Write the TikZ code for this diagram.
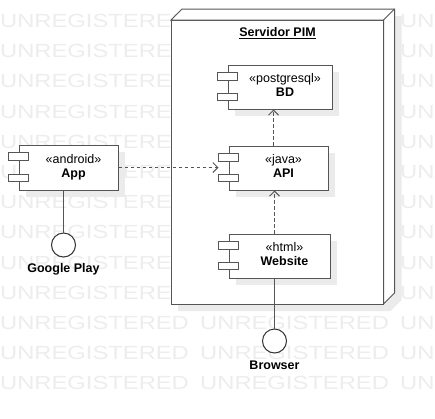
\documentclass[tikz,border=0pt]{standalone}
\usepackage{fontspec}
\setmainfont{Liberation Sans}
\newfontfamily\wmfont[FakeStretch=1.25]{Liberation Sans}
\usetikzlibrary{arrows.meta,shadows}
\definecolor{umlline}{HTML}{555555}
\definecolor{umlshadow}{HTML}{EBEBEB}
\definecolor{wmgray}{HTML}{EDEDED}
\tikzset{
  wmark/.style={text=wmgray, inner sep=0pt, anchor=base west, font=\wmfont\fontsize{19}{19}\selectfont},
  comp/.style={draw=umlline, fill=white, line width=1pt, minimum height=44pt, inner sep=0pt,
    font=\fontsize{12.5}{14}\selectfont,
    drop shadow={shadow xshift=7pt, shadow yshift=-7pt, fill=umlshadow, opacity=1}},
  tab/.style={draw=umlline, fill=white, line width=1pt},
  boxline/.style={draw=umlline, line width=1pt},
  dep/.style={draw=umlline, line width=1pt, dash pattern=on 3.5pt off 2.5pt,
    -{Straight Barb[length=5pt,width=10pt]}},
  conn/.style={draw=umlline, line width=1pt},
  iface/.style={circle, draw=black!80, fill=white, line width=1pt, minimum size=24pt, inner sep=0pt},
  bold/.style={inner sep=0pt, font=\fontsize{12.5}{14}\selectfont\bfseries}
}
\begin{document}
\begin{tikzpicture}[x=1pt,y=-1pt]
\useasboundingbox (0,0) rectangle (435,418);
\clip (0,0) rectangle (435,418);
\fill[white] (0,0) rectangle (435,418);
% watermark (the middle word is hidden by the node above row 10)
\foreach \r in {0,...,12} {
  \node[wmark] (wm-\r-0) at (0,27.5+30.2*\r) {UNREGISTERED};
  \node[wmark] (wm-\r-2) at (400,27.5+30.2*\r) {UNREGISTERED};
}
\foreach \r in {10,11,12}
  \node[wmark] (wm-\r-1) at (200,27.5+30.2*\r) {UNREGISTERED};
% node Servidor PIM
\begin{scope}[shift={(7,7)}]
\fill[umlshadow] (171,20) -- (182,9) -- (394.5,9) -- (394.5,293) -- (383.5,304) -- (171,304) -- cycle;
\end{scope}
\draw[boxline, fill=white] (171,20) rectangle (383.5,304);
\draw[boxline, fill=white] (171,20) -- (182,9) -- (394.5,9) -- (394.5,293) -- (383.5,304) -- (383.5,20) -- cycle;
\draw[boxline] (383.5,20) -- (394.5,9);
\node[bold] (srvtitle) at (277.5,33.5) {\underline{Servidor PIM}};
% components
\node[comp, minimum width=99pt, minimum height=45pt] (app) at (68.5,167.5)
  {\hspace*{10pt}\begin{tabular}{@{}c@{}}«android»\\\textbf{App}\end{tabular}};
\node[comp, minimum width=104pt] (bd) at (280,87)
  {\hspace*{10pt}\begin{tabular}{@{}c@{}}«postgresql»\\\textbf{BD}\end{tabular}};
\node[comp, minimum width=99pt] (api) at (278.5,168)
  {\hspace*{10pt}\begin{tabular}{@{}c@{}}«java»\\\textbf{API}\end{tabular}};
\node[comp, minimum width=101pt] (web) at (279.5,256)
  {\hspace*{10pt}\begin{tabular}{@{}c@{}}«html»\\\textbf{Website}\end{tabular}};
\foreach \c in {app,bd,api,web} {
  \draw[tab] ([xshift=-10pt,yshift=-8pt]\c.north west) rectangle ([xshift=10pt,yshift=-15.5pt]\c.north west);
  \draw[tab] ([xshift=-10pt,yshift=9pt]\c.south west) rectangle ([xshift=10pt,yshift=16.5pt]\c.south west);
}
% interfaces
\node[iface] (gplay) at (63.5,245) {};
\node[bold] (gplaylbl) at (63.5,269) {Google Play};
\node[iface] (browser) at (274.5,341) {};
\node[bold] (browserlbl) at (274.5,365) {Browser};
\draw[conn] ([xshift=-5pt]app.south) -- (gplay.north);
\draw[conn] ([xshift=-5pt]web.south) -- (browser.north);
% dependencies
\draw[dep] (app.east) -- ([xshift=-10pt]api.west |- app.east);
\draw[dep] ([xshift=-5pt]api.north) -- ([xshift=-5pt]api.north |- bd.south);
\draw[dep] ([xshift=-5pt]web.north) -- ([xshift=-5pt]web.north |- api.south);
\end{tikzpicture}
\end{document}
